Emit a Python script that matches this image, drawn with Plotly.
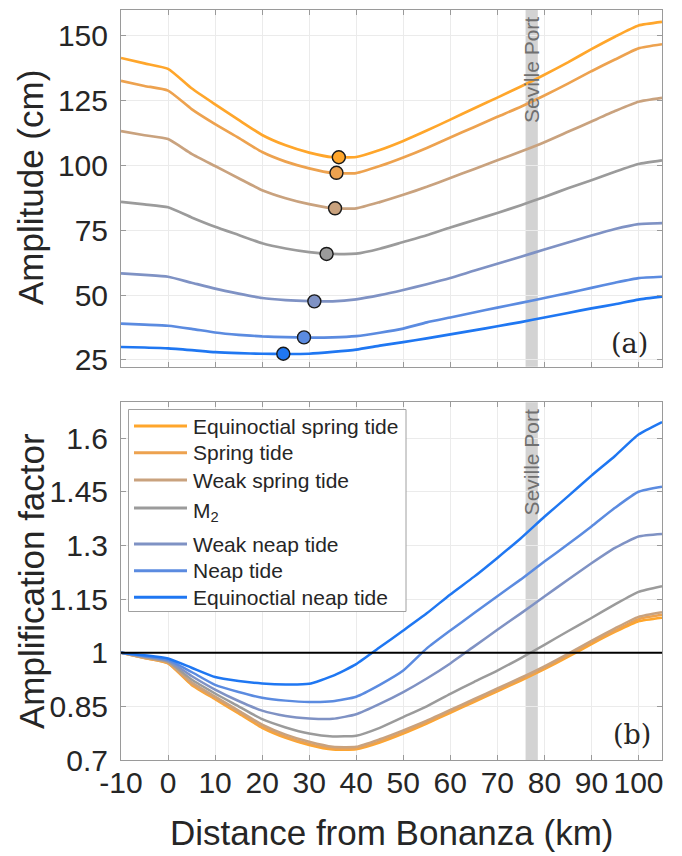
import plotly.graph_objects as go

# Distance along the estuary (km from Bonanza)
distance_km = [-10, -5, 0, 5, 10, 15, 20, 25, 30, 35, 40, 45, 50, 55, 60,
               65, 70, 75, 80, 85, 90, 95, 100, 105]

series_names = ["Equinoctial spring tide", "Spring tide", "Weak spring tide",
                "M<sub>2</sub>", "Weak neap tide", "Neap tide",
                "Equinoctial neap tide"]
series_colors = ["#FFA62B", "#EDA24F", "#C9A27E", "#9B9B9B",
                 "#7F92C4", "#5B8BE0", "#1F77F2"]

# Panel (a): tidal amplitude (cm)
amp_eq_spring = [141.5, 139.4, 137.3, 129.8, 123.6, 117.6, 111.8, 107.8, 105.0, 103.2,
                 103.3, 106.0, 109.5, 113.5, 117.7, 122.0, 126.2, 130.5, 135.0, 139.8,
                 144.9, 149.7, 154.0, 155.4]
amp_spring = [132.7, 130.7, 128.9, 121.8, 116.0, 110.7, 105.2, 101.5, 98.9, 97.1,
              97.1, 99.8, 103.1, 106.8, 110.8, 114.8, 118.8, 122.7, 127.0, 131.6,
              136.4, 140.9, 145.2, 146.8]
amp_weak_spring = [113.3, 111.7, 110.2, 104.5, 99.8, 95.1, 90.5, 87.4, 85.1, 83.5,
                   83.5, 85.9, 88.7, 91.8, 95.2, 98.6, 102.0, 105.4, 109.0, 113.0,
                   117.0, 121.0, 124.6, 126.1]
amp_m2 = [86.0, 85.0, 83.9, 80.0, 76.4, 73.2, 70.0, 68.0, 66.6, 65.9,
          66.0, 67.9, 70.5, 73.1, 76.1, 78.9, 81.7, 84.7, 87.9, 91.2,
          94.3, 97.6, 100.6, 102.0]
amp_weak_neap = [58.4, 57.8, 57.1, 54.8, 52.5, 50.6, 48.9, 48.1, 47.7, 47.6,
                 48.4, 50.0, 52.0, 54.2, 56.6, 59.4, 62.1, 64.8, 67.6, 70.3,
                 73.0, 75.5, 77.4, 77.8]
amp_neap = [39.0, 38.6, 38.2, 37.0, 35.6, 34.7, 34.1, 33.8, 33.6, 33.7,
            34.2, 35.5, 37.1, 39.5, 41.4, 43.3, 45.2, 47.0, 48.9, 50.8,
            52.8, 54.8, 56.6, 57.1]
amp_eq_neap = [30.0, 29.8, 29.5, 28.8, 28.0, 27.6, 27.4, 27.3, 27.4, 28.1,
               29.0, 30.5, 31.9, 33.3, 34.9, 36.4, 38.0, 39.6, 41.4, 43.1,
               44.9, 46.5, 48.3, 49.4]

# Location and value of the amplitude minimum of each series
min_x = [36.3, 35.8, 35.5, 33.7, 31.1, 28.9, 24.5]
min_y = [103.2, 97.2, 83.5, 65.9, 47.6, 33.7, 27.4]

# Panel (b): amplification factor
amf_eq_spring = [1.0, 0.985, 0.970, 0.910, 0.870, 0.830, 0.790, 0.762, 0.742, 0.729,
                 0.730, 0.749, 0.774, 0.802, 0.832, 0.862, 0.892, 0.922, 0.954, 0.988,
                 1.024, 1.058, 1.088, 1.098]
amf_spring = [1.0, 0.985, 0.971, 0.912, 0.872, 0.833, 0.793, 0.765, 0.745, 0.732,
              0.732, 0.752, 0.777, 0.805, 0.835, 0.865, 0.895, 0.925, 0.957, 0.992,
              1.028, 1.062, 1.094, 1.106]
amf_weak_spring = [1.0, 0.986, 0.973, 0.917, 0.877, 0.838, 0.799, 0.771, 0.751, 0.737,
                   0.737, 0.758, 0.783, 0.810, 0.840, 0.870, 0.900, 0.930, 0.962, 0.997,
                   1.033, 1.068, 1.100, 1.113]
amf_m2 = [1.0, 0.988, 0.975, 0.925, 0.886, 0.850, 0.814, 0.791, 0.774, 0.766,
          0.768, 0.790, 0.820, 0.850, 0.885, 0.918, 0.950, 0.985, 1.022, 1.060,
          1.097, 1.135, 1.170, 1.186]
amf_weak_neap = [1.0, 0.990, 0.978, 0.935, 0.897, 0.865, 0.838, 0.823, 0.816, 0.815,
                 0.828, 0.857, 0.890, 0.928, 0.970, 1.017, 1.064, 1.110, 1.157, 1.204,
                 1.250, 1.293, 1.325, 1.332]
amf_neap = [1.0, 0.991, 0.980, 0.946, 0.910, 0.890, 0.874, 0.866, 0.862, 0.864,
            0.877, 0.910, 0.950, 1.012, 1.062, 1.110, 1.158, 1.205, 1.255, 1.303,
            1.353, 1.405, 1.450, 1.464]
amf_eq_neap = [1.0, 0.993, 0.984, 0.958, 0.932, 0.921, 0.914, 0.911, 0.913, 0.935,
               0.968, 1.015, 1.062, 1.110, 1.163, 1.212, 1.265, 1.320, 1.380, 1.437,
               1.495, 1.550, 1.610, 1.645]

amplitudes = [amp_eq_spring, amp_spring, amp_weak_spring, amp_m2,
              amp_weak_neap, amp_neap, amp_eq_neap]
factors = [amf_eq_spring, amf_spring, amf_weak_spring, amf_m2,
           amf_weak_neap, amf_neap, amf_eq_neap]

x_ticks = [-10, 0, 10, 20, 30, 40, 50, 60, 70, 80, 90, 100]
x_tick_labels = ["-10", "0", "10", "20", "30", "40", "50", "60", "70", "80", "90", "100"]
amp_ticks = [25, 50, 75, 100, 125, 150]
amf_ticks = [0.7, 0.85, 1.0, 1.15, 1.3, 1.45, 1.6]
amf_tick_labels = ["0.7", "0.85", "1", "1.15", "1.3", "1.45", "1.6"]

seville_port_km = [76.0, 78.6]

FONT = "Liberation Sans"
TXT = "#262626"
AX = "#9a9a9a"
GRID = "#ebebeb"

# Figure geometry (px) used to place the hand-built legend
W, H = 682, 856
ML, MR, MT, MB = 121, 20, 10, 96
PW, PH = W - ML - MR, H - MT - MB


def px_x(p):
    return (p - ML) / PW


def px_y(p):
    return (H - MB - p) / PH


fig = go.Figure()

line_kw = dict(shape="spline", smoothing=0.5)
for name, col, amp in zip(series_names, series_colors, amplitudes):
    fig.add_trace(go.Scatter(x=distance_km, y=amp, mode="lines",
                             line=dict(color=col, width=2.7, **line_kw),
                             showlegend=False, xaxis="x", yaxis="y"))
for col, mx, my in zip(series_colors, min_x, min_y):
    fig.add_trace(go.Scatter(x=[mx], y=[my], mode="markers",
                             marker=dict(color=col, size=13,
                                         line=dict(color="#1a1a1a", width=1.4)),
                             showlegend=False, xaxis="x", yaxis="y"))
for name, col, amf in zip(series_names, series_colors, factors):
    fig.add_trace(go.Scatter(x=distance_km, y=amf, mode="lines", name=name,
                             line=dict(color=col, width=2.5, **line_kw),
                             showlegend=False, xaxis="x2", yaxis="y2"))

axis_common = dict(showline=True, linecolor=AX, linewidth=1, mirror="ticks",
                   ticks="inside", ticklen=5, tickcolor=AX,
                   showgrid=True, gridcolor=GRID, gridwidth=1, zeroline=False,
                   tickfont=dict(family=FONT, size=30, color=TXT))

fig.update_layout(
    width=W, height=H,
    margin=dict(l=ML, r=MR, t=MT, b=MB),
    paper_bgcolor="white", plot_bgcolor="white",
    xaxis=dict(domain=[0, 1], anchor="y", range=[-10, 105],
               tickvals=x_ticks, ticktext=x_tick_labels, showticklabels=False,
               **axis_common),
    yaxis=dict(domain=[0.5244, 1], anchor="x", range=[22.4, 160],
               tickvals=amp_ticks, ticklabelstandoff=6, **axis_common),
    xaxis2=dict(domain=[0, 1], anchor="y2", range=[-10, 105],
                tickvals=x_ticks, ticktext=x_tick_labels, ticklabelstandoff=-4,
                **axis_common),
    yaxis2=dict(domain=[0, 0.4769], anchor="x2", range=[0.7, 1.7],
                tickvals=amf_ticks, ticktext=amf_tick_labels, ticklabelstandoff=6,
                **axis_common),
    showlegend=False,
)

# Seville Port band in both panels
for xr, yr in (("x", "y"), ("x2", "y2")):
    fig.add_shape(type="rect", xref=xr, yref=f"{yr} domain",
                  x0=seville_port_km[0], x1=seville_port_km[1], y0=0, y1=1,
                  fillcolor="#d3d3d3", line=dict(width=0), layer="below")
    fig.add_annotation(x=sum(seville_port_km) / 2, y=0.985, xref=xr,
                       yref=f"{yr} domain", text="Seville Port", textangle=-90,
                       showarrow=False, xanchor="center", yanchor="top",
                       font=dict(family=FONT, size=21, color="#707070"))

# Reference line: amplification factor of 1
fig.add_shape(type="line", xref="x2 domain", yref="y2", x0=0, x1=1, y0=1, y1=1,
              line=dict(color="black", width=2), layer="above")

# Legend box for panel (b)
fig.add_shape(type="rect", xref="paper", yref="paper",
              x0=px_x(128.5), x1=px_x(406), y0=px_y(409.5), y1=px_y(611.5),
              fillcolor="white", line=dict(color="#a0a0a0", width=1), layer="above")
legend_rows = [426, 452.7, 480, 508, 544, 570.7, 597.3]
for name, col, ry in zip(series_names, series_colors, legend_rows):
    fig.add_shape(type="line", xref="paper", yref="paper",
                  x0=px_x(134), x1=px_x(187), y0=px_y(ry), y1=px_y(ry),
                  line=dict(color=col, width=3), layer="above")
    sub = "<sub>" in name
    fig.add_annotation(x=px_x(191), y=px_y(ry - 11 if sub else ry),
                       xref="paper", yref="paper", text=name, showarrow=False,
                       xanchor="left", yanchor="top" if sub else "middle",
                       font=dict(family=FONT, size=21, color=TXT))

# Panel labels
fig.add_annotation(x=0.94, y=0.065, xref="x domain", yref="y domain", text="(a)",
                   showarrow=False, xanchor="center", yanchor="middle",
                   font=dict(family="DejaVu Serif", size=27, color=TXT))
fig.add_annotation(x=0.945, y=0.072, xref="x2 domain", yref="y2 domain", text="(b)",
                   showarrow=False, xanchor="center", yanchor="middle",
                   font=dict(family="DejaVu Serif", size=27, color=TXT))

# Axis titles
fig.add_annotation(x=px_x(31), y=px_y(188), xref="paper", yref="paper",
                   text="Amplitude (cm)", textangle=-90, showarrow=False,
                   xanchor="center", yanchor="middle",
                   font=dict(family=FONT, size=35, color=TXT))
fig.add_annotation(x=px_x(31), y=px_y(581), xref="paper", yref="paper",
                   text="Amplification factor", textangle=-90, showarrow=False,
                   xanchor="center", yanchor="middle",
                   font=dict(family=FONT, size=35, color=TXT))
fig.add_annotation(x=0.5, y=px_y(832), xref="paper", yref="paper",
                   text="Distance from Bonanza (km)", showarrow=False,
                   xanchor="center", yanchor="middle",
                   font=dict(family=FONT, size=35, color=TXT))

fig.write_html("out.html")
